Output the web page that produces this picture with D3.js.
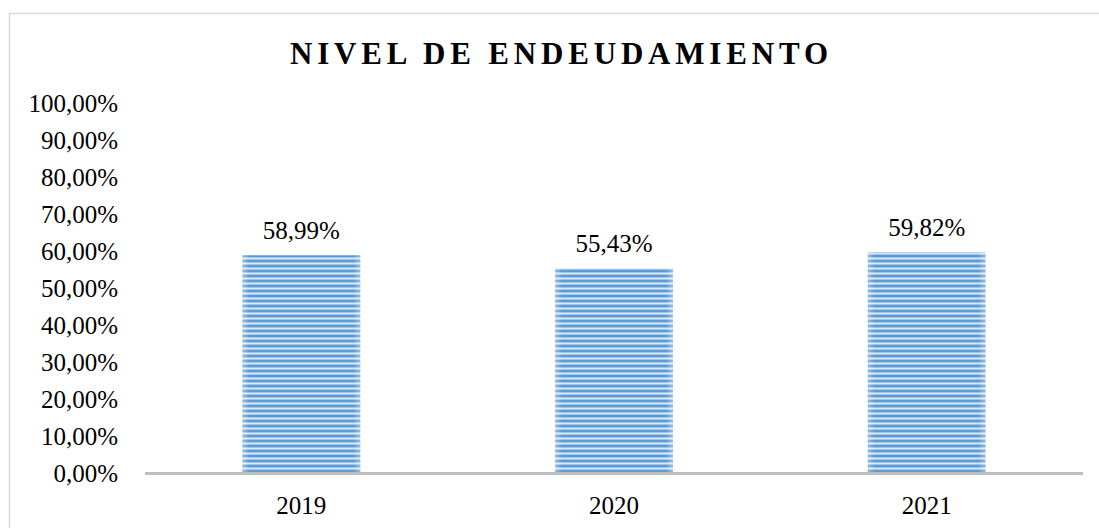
<!DOCTYPE html>
<html>
<head>
<meta charset="utf-8">
<script src="https://cdn.jsdelivr.net/npm/d3@7"></script>
<style>
  html, body { margin: 0; padding: 0; background: #fff; }
  #chart { width: 1099px; height: 528px; }
</style>
</head>
<body>
<div id="chart"></div>
<script>
// Chart data
const years = ["2019", "2020", "2021"];
const values = [58.99, 55.43, 59.82];
const tickValues = [0, 10, 20, 30, 40, 50, 60, 70, 80, 90, 100];
const chartTitle = "NIVEL DE ENDEUDAMIENTO";

const width = 1099;
const height = 528;

// Spanish style percent: comma as decimal separator
const fmt = v => v.toFixed(2).replace(".", ",") + "%";

const svg = d3.create("svg")
    .attr("width", width)
    .attr("height", height)
    .attr("viewBox", [0, 0, width, height]);

// Striped fill for the bars
const defs = svg.append("defs");
const pattern = defs.append("pattern")
    .attr("id", "stripes")
    .attr("patternUnits", "userSpaceOnUse")
    .attr("width", 10)
    .attr("height", 5);
pattern.append("rect").attr("width", 10).attr("height", 5).attr("fill", "#9fc4e8");
pattern.append("rect").attr("y", 0).attr("width", 10).attr("height", 2).attr("fill", "#5b9bd5");
pattern.append("rect").attr("y", 3).attr("width", 10).attr("height", 1).attr("fill", "#dbe8f6");

// Soft lighter edges on each bar
const edge = defs.append("linearGradient").attr("id", "edge");
edge.append("stop").attr("offset", "0%").attr("stop-color", "#fff").attr("stop-opacity", 0.35);
edge.append("stop").attr("offset", "6%").attr("stop-color", "#fff").attr("stop-opacity", 0);
edge.append("stop").attr("offset", "94%").attr("stop-color", "#fff").attr("stop-opacity", 0);
edge.append("stop").attr("offset", "100%").attr("stop-color", "#fff").attr("stop-opacity", 0.35);

// Outer chart border (runs off the right and bottom of the page)
svg.append("rect")
    .attr("x", 9.5)
    .attr("y", 13.5)
    .attr("width", 1200)
    .attr("height", 600)
    .attr("fill", "none")
    .attr("stroke", "#d9d9d9")
    .attr("stroke-width", 1.5);

// Scales
const x = d3.scaleBand()
    .domain(years)
    .range([145, 1083])
    .paddingInner(0.623)
    .paddingOuter(0.3115);

const y = d3.scaleLinear()
    .domain([0, 100])
    .range([473.5, 103.5]);

// Title
svg.append("text")
    .attr("x", 559)
    .attr("y", 64)
    .attr("text-anchor", "middle")
    .attr("textLength", 538)
    .attr("lengthAdjust", "spacing")
    .style("font-family", "'Liberation Serif', 'Times New Roman', serif")
    .style("font-weight", "bold")
    .style("font-size", "31px")
    .style("fill", "#000")
    .text(chartTitle);

// Y axis (labels only)
const yAxis = svg.append("g")
    .attr("transform", "translate(118,0)")
    .call(d3.axisLeft(y).tickValues(tickValues).tickFormat(d => fmt(d)).tickSize(0).tickPadding(0));
yAxis.select(".domain").remove();
yAxis.selectAll("text")
    .attr("dy", "0.32em")
    .style("font-family", "'Liberation Serif', 'Times New Roman', serif")
    .style("font-size", "25px")
    .style("fill", "#000");

// Bars
const bars = svg.append("g")
    .selectAll()
    .data(years)
    .join("g");

bars.append("rect")
    .attr("x", (d, i) => x(d))
    .attr("y", (d, i) => y(values[i]))
    .attr("width", x.bandwidth())
    .attr("height", (d, i) => y(0) - y(values[i]))
    .attr("fill", "url(#stripes)");

bars.append("rect")
    .attr("x", (d, i) => x(d))
    .attr("y", (d, i) => y(values[i]))
    .attr("width", x.bandwidth())
    .attr("height", (d, i) => y(0) - y(values[i]))
    .attr("fill", "url(#edge)");

// Value labels
bars.append("text")
    .attr("x", d => x(d) + x.bandwidth() / 2)
    .attr("y", (d, i) => y(values[i]) - 16)
    .attr("text-anchor", "middle")
    .style("font-family", "'Liberation Serif', 'Times New Roman', serif")
    .style("font-size", "25px")
    .style("fill", "#000")
    .text((d, i) => fmt(values[i]));

// X axis line
svg.append("line")
    .attr("x1", 145)
    .attr("x2", 1083)
    .attr("y1", y(0))
    .attr("y2", y(0))
    .attr("stroke", "#bfbfbf")
    .attr("stroke-width", 3);

// X axis labels
const xAxis = svg.append("g")
    .attr("transform", `translate(0,${y(0)})`)
    .call(d3.axisBottom(x).tickSize(0).tickPadding(0));
xAxis.select(".domain").remove();
xAxis.selectAll("text")
    .attr("dy", "40px")
    .style("font-family", "'Liberation Serif', 'Times New Roman', serif")
    .style("font-size", "25px")
    .style("fill", "#000");

document.getElementById("chart").appendChild(svg.node());
</script>
</body>
</html>
